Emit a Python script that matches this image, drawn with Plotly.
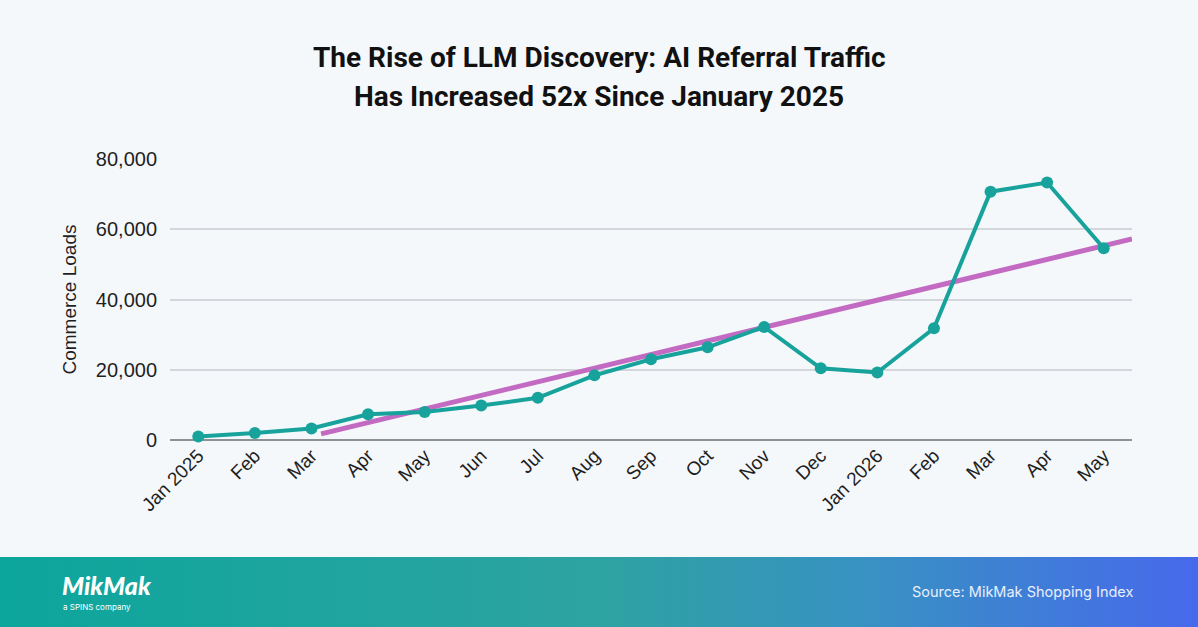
import numpy as np
import plotly.graph_objects as go

# ---- data ----
months = ["Jan 2025", "Feb", "Mar", "Apr", "May", "Jun", "Jul", "Aug", "Sep",
          "Oct", "Nov", "Dec", "Jan 2026", "Feb", "Mar", "Apr", "May"]
commerce_loads = [1000, 2000, 3300, 7300, 8000, 9800, 12000, 18400, 23000,
                  26400, 32200, 20400, 19200, 31800, 70700, 73300, 54600]
y_ticks = [0, 20000, 40000, 60000, 80000]

# ---- style ----
W, H = 1198, 627
BG = "#F5F8FB"
TEAL = "#17A39C"
PURPLE = "#C36BC2"
TEXT = "#1F1F1F"
TREND_START = 2.17  # index position where the trend line begins

idx = np.arange(len(months))
slope, intercept = np.polyfit(idx, commerce_loads, 1)
trend_x = np.array([TREND_START, len(months) - 0.5])
trend_y = slope * trend_x + intercept

fig = go.Figure()

# footer gradient band
fig.add_trace(go.Scatter(
    x=[0, 1, 1, 0, 0], y=[0, 0, 1, 1, 0], xaxis="x2", yaxis="y2",
    mode="lines", line=dict(width=0), fill="toself",
    fillgradient=dict(type="horizontal", start=0, stop=1,
                      colorscale=[[0, "#0CA69C"], [0.5, "#2EA3A2"],
                                  [0.72, "#3892C2"], [1, "#4769EC"]]),
    hoverinfo="skip", showlegend=False))

# trend line
fig.add_trace(go.Scatter(
    x=trend_x, y=trend_y, mode="lines",
    line=dict(color=PURPLE, width=5), hoverinfo="skip", showlegend=False))

# data line
fig.add_trace(go.Scatter(
    x=idx, y=commerce_loads, mode="lines+markers",
    line=dict(color=TEAL, width=4), marker=dict(size=12, color=TEAL),
    cliponaxis=False, showlegend=False))

fig.update_layout(
    width=W, height=H,
    margin=dict(l=0, r=0, t=0, b=0, pad=0),
    paper_bgcolor=BG, plot_bgcolor=BG,
    showlegend=False,
    font=dict(family="Liberation Sans, Arial, sans-serif", color=TEXT),
    xaxis=dict(
        domain=[170 / W, 1132 / W], range=[-0.5, len(months) - 0.5],
        tickmode="array", tickvals=idx, ticktext=months, tickangle=-45,
        showgrid=False, zeroline=False, showline=False, ticks="",
        tickfont=dict(size=19, color=TEXT), automargin=False,
    ),
    yaxis=dict(
        domain=[(H - 440) / H, (H - 159) / H], range=[0, 80000],
        tickmode="array", tickvals=y_ticks, tickformat=",",
        showgrid=True, gridcolor="#D3D7DB", gridwidth=1.5,
        zeroline=True, zerolinecolor="#8C9196", zerolinewidth=1.5,
        showline=False, ticks="", ticklabelstandoff=12,
        tickfont=dict(size=20, color=TEXT), automargin=False,
        title=dict(text="Commerce Loads", font=dict(size=19, color=TEXT), standoff=14),
    ),
    xaxis2=dict(domain=[0, 1], range=[0, 1], visible=False, fixedrange=True, automargin=False),
    yaxis2=dict(domain=[0, 70 / H], range=[0, 1], visible=False, fixedrange=True, automargin=False),
)

title_font = dict(family="Roboto, Inter, sans-serif", size=28, color="#111111", weight=700)
fig.add_annotation(text="The Rise of LLM Discovery: AI Referral Traffic",
                   x=0.5, y=1 - 58 / H, xref="paper", yref="paper",
                   xanchor="center", yanchor="middle", showarrow=False, font=title_font)
fig.add_annotation(text="Has Increased 52x Since January 2025",
                   x=0.5, y=1 - 96 / H, xref="paper", yref="paper",
                   xanchor="center", yanchor="middle", showarrow=False, font=title_font)

# footer texts
fig.add_annotation(text="MikMak", x=60 / W, y=1 - 585 / H, xref="paper", yref="paper",
                   xanchor="left", yanchor="middle", showarrow=False,
                   font=dict(family="Lato, sans-serif", size=25, color="white",
                             weight=900, style="italic"))
fig.add_annotation(text="a SPINS company", x=61 / W, y=1 - 607 / H, xref="paper", yref="paper",
                   xanchor="left", yanchor="middle", showarrow=False,
                   font=dict(family="Inter, sans-serif", size=8, color="white"))
fig.add_annotation(text="Source: MikMak Shopping Index", x=1135 / W, y=1 - 592 / H,
                   xref="paper", yref="paper", xanchor="right", yanchor="middle",
                   showarrow=False, font=dict(family="Inter, sans-serif", size=14.5, color="#E8EFFB"))

fig.write_html("out.html")
